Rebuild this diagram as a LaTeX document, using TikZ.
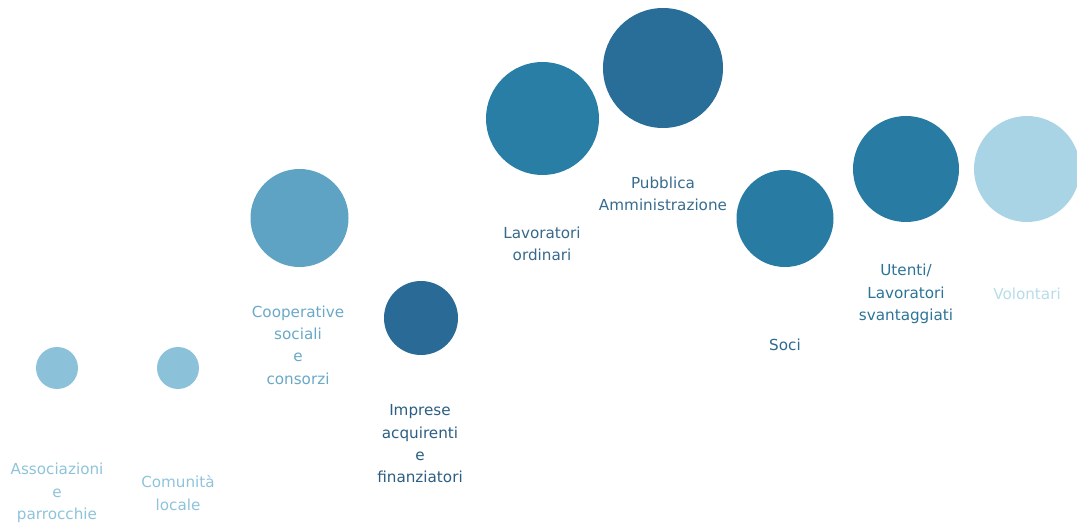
\documentclass[tikz,border=0pt]{standalone}
\usepackage{fontspec}
\setmainfont{DejaVu Sans}
\definecolor{cLight}{HTML}{8BC2DA}
\definecolor{cCoop}{HTML}{5EA3C3}
\definecolor{cImpr}{HTML}{296A97}
\definecolor{cLav}{HTML}{287EA4}
\definecolor{cPA}{HTML}{296D99}
\definecolor{cSoci}{HTML}{287CA3}
\definecolor{cVol}{HTML}{A9D4E5}
\definecolor{tLight}{HTML}{8EC3DA}
\definecolor{tCoop}{HTML}{6AA8C7}
\definecolor{tImpr}{HTML}{2B5E82}
\definecolor{tLav}{HTML}{36698C}
\definecolor{tPA}{HTML}{386C8E}
\definecolor{tSoci}{HTML}{2D6A8E}
\definecolor{tUt}{HTML}{2C7398}
\definecolor{tVol}{HTML}{B7DCEA}
\tikzset{
  bubble/.style={circle, inner sep=0pt, minimum size=#1},
  lbl/.style={align=center, inner sep=0pt, font=\fontsize{15.2}{22.3}\selectfont},
}
\begin{document}
\begin{tikzpicture}[x=1pt,y=-1pt]
\useasboundingbox (0,0) rectangle (1077,529);
% circles
\node[bubble=42pt, fill=cLight] (b1) at (57,368) {};
\node[bubble=42pt, fill=cLight] (b2) at (178,368) {};
\node[bubble=98pt, fill=cCoop] (b3) at (299.5,218) {};
\node[bubble=74pt, fill=cImpr] (b4) at (421,318) {};
\node[bubble=113pt, fill=cLav] (b5) at (542.5,118.5) {};
\node[bubble=120pt, fill=cPA] (b6) at (663,68) {};
\node[bubble=97pt, fill=cSoci] (b7) at (785,218.5) {};
\node[bubble=106pt, fill=cSoci] (b8) at (906,169) {};
\node[bubble=106pt, fill=cVol] (b9) at (1027,169) {};
% labels
\node[lbl, text=tLight] (t1) at (57,493) {Associazioni\\e\\parrocchie};
\node[lbl, text=tLight] (t2) at (178,493) {Comunità\\locale};
\node[lbl, text=tCoop] (t3) at (298,345) {Cooperative\\sociali\\e\\consorzi};
\node[lbl, text=tImpr] (t4) at (420,444) {Imprese\\acquirenti\\e\\finanziatori};
\node[lbl, text=tLav] (t5) at (542,244) {Lavoratori\\ordinari};
\node[lbl, text=tPA] (t6) at (663,193.5) {Pubblica\\Amministrazione};
\node[lbl, text=tSoci] (t7) at (785,345) {Soci};
\node[lbl, text=tUt] (t8) at (906,294) {Utenti/\\Lavoratori\\svantaggiati};
\node[lbl, text=tVol] (t9) at (1027,294) {Volontari};
\end{tikzpicture}
\end{document}
